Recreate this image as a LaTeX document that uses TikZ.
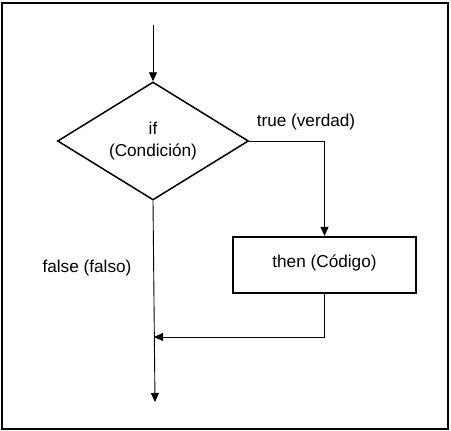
\documentclass[tikz,border=0pt]{standalone}
\usepackage{fontspec}
\setmainfont{Liberation Sans}
\usetikzlibrary{shapes.geometric,arrows.meta}
\begin{document}
\begin{tikzpicture}[x=1pt,y=-1pt,
  every node/.style={font=\fontsize{17.2}{22}\selectfont},
  conn/.style={draw=black,line width=0.9pt},
  arr/.style={conn,-{Triangle[length=9pt,width=8pt]}},
  decision/.style={draw,diamond,line width=1.5pt,minimum width=191pt,minimum height=118pt,aspect=1.62,inner sep=0pt,align=center},
  codebox/.style={draw,rectangle,line width=2.2pt,minimum width=183pt,minimum height=56pt,inner sep=0pt},
  lbl/.style={inner sep=0pt}]
\useasboundingbox (0,0) rectangle (451,431);
\draw[line width=1.2pt] (2,3) rectangle (448,429);
\coordinate (start) at (153,25);
\node[decision] (d) at (153,141) {if\\(Condición)};
\node[codebox] (box) at (324.5,265) {\raisebox{7pt}{then (Código)}};
\coordinate (merge) at (154,337);
\coordinate (endc) at (155,402);
\node[lbl] (tlabel) at (306,122) {true (verdad)};
\node[lbl] (flabel) at (87,268) {false (falso)};
\draw[arr] (start) -- (d.north);
\draw[arr] (d.east) -| (box.north);
\draw[arr] (d.south) -- (endc);
\draw[arr] (box.south) |- (merge);
\end{tikzpicture}
\end{document}
